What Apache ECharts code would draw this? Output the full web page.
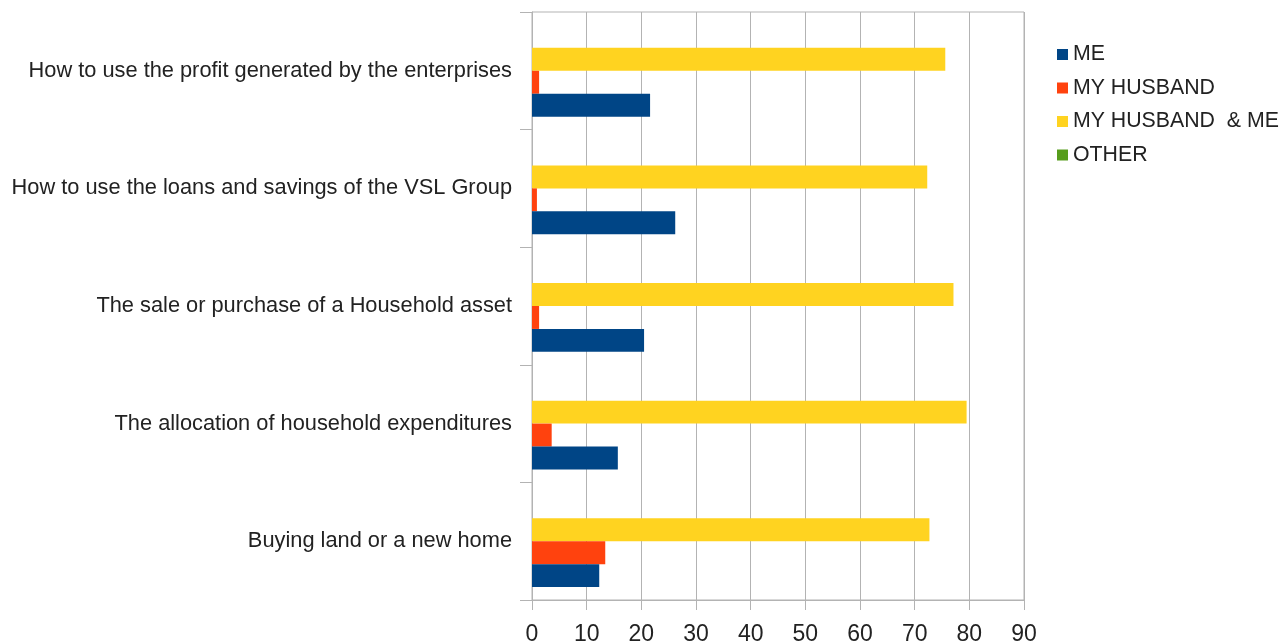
<!DOCTYPE html>
<html>
<head>
<meta charset="utf-8">
<script src="https://cdn.jsdelivr.net/npm/echarts@6/dist/echarts.min.js"></script>
<style>
html,body{margin:0;padding:0;background:#fff;}
#main{width:1284px;height:642px;}
</style>
</head>
<body>
<div id="main"></div>
<script>
// categories listed bottom-to-top
const categories = [
  "Buying land or a new home",
  "The allocation of household expenditures",
  "The sale or purchase of a Household asset",
  "How to use the loans and savings of the VSL Group",
  "How to use the profit generated by the enterprises"
];
const legendNames = ["ME", "MY HUSBAND", "MY HUSBAND  & ME", "OTHER"];
const valuesMe = [12.3, 15.7, 20.5, 26.2, 21.6];
const valuesHusband = [13.4, 3.6, 1.3, 0.9, 1.3];
const valuesBoth = [72.7, 79.5, 77.1, 72.3, 75.6];
const valuesOther = [0, 0, 0, 0, 0];
const xTicks = { min: 0, max: 90, interval: 10 };

const colorMap = {
  "ME": "#004586",
  "MY HUSBAND": "#ff420e",
  "MY HUSBAND  & ME": "#ffd320",
  "OTHER": "#579d1c"
};
const valueMap = {
  "ME": valuesMe,
  "MY HUSBAND": valuesHusband,
  "MY HUSBAND  & ME": valuesBoth,
  "OTHER": valuesOther
};
// within a category, first series is drawn at the top
const seriesOrder = ["OTHER", "MY HUSBAND  & ME", "MY HUSBAND", "ME"];
const font = "Liberation Sans";

const chart = echarts.init(document.getElementById('main'), null, {renderer: 'canvas'});
chart.setOption({
  animation: false,
  backgroundColor: '#ffffff',
  textStyle: { fontFamily: font },
  grid: {
    left: 532, right: 260, top: 12, bottom: 42,
    show: true, borderColor: '#b3b3b3', borderWidth: 1,
    containLabel: false,
    outerBoundsMode: 'none'
  },
  legend: {
    orient: 'vertical',
    left: 1052, top: 39,
    itemWidth: 11, itemHeight: 11, itemGap: 12.5,
    icon: 'rect',
    textStyle: { fontSize: 21.3, color: '#222', fontFamily: font },
    data: legendNames
  },
  xAxis: {
    type: 'value',
    min: xTicks.min, max: xTicks.max, interval: xTicks.interval,
    axisLine: { show: true, lineStyle: { color: '#b3b3b3' } },
    axisTick: { show: true, length: 10, lineStyle: { color: '#b3b3b3' } },
    splitLine: { show: true, lineStyle: { color: '#b3b3b3', width: 1 } },
    axisLabel: { fontSize: 23, color: '#222', margin: 23, fontFamily: font }
  },
  yAxis: {
    type: 'category',
    data: categories,
    axisLine: { show: true, lineStyle: { color: '#b3b3b3' } },
    axisTick: { show: true, length: 12, lineStyle: { color: '#b3b3b3' } },
    splitLine: { show: false },
    axisLabel: { fontSize: 21.8, color: '#222', margin: 20, fontFamily: font }
  },
  series: seriesOrder.map((name) => ({
    name: name,
    type: 'bar',
    data: valueMap[name],
    barGap: '0%',
    barCategoryGap: '22%',
    itemStyle: { color: colorMap[name] }
  }))
});
</script>
</body>
</html>
